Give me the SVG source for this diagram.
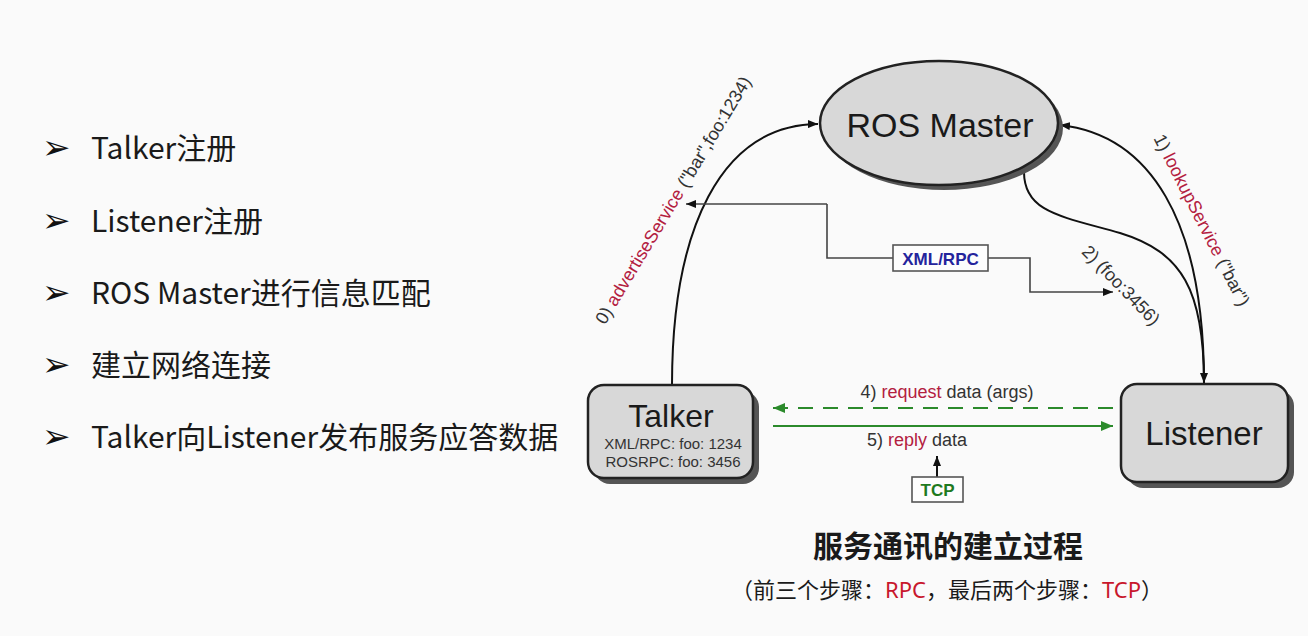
<svg xmlns="http://www.w3.org/2000/svg" width="1308" height="636" viewBox="0 0 1308 636">
<style>
.bul{font-family:"DejaVu Sans",sans-serif;font-size:34px;fill:#111}
.item{font-family:"Noto Sans CJK SC","Noto Sans",sans-serif;font-size:30px;fill:#1a1a1a}
.lbl{font-family:"Liberation Sans",Arial,sans-serif;font-size:18px;fill:#333}
.red{fill:#b3203f}
.node{font-family:"Liberation Sans",Arial,sans-serif;fill:#1a1a1a;text-anchor:middle}
.sub{font-family:"Liberation Sans",Arial,sans-serif;font-size:15px;fill:#333;text-anchor:middle}
.wire{fill:none;stroke:#111;stroke-width:2}
.thin{fill:none;stroke:#444;stroke-width:1.6}
.shape{fill:#d8d8d8;stroke:#222;stroke-width:2.5}
.shadow{fill:#555}
</style>
<defs>
<marker id="ab" viewBox="0 0 10 8" refX="10" refY="4" markerWidth="10" markerHeight="8" markerUnits="userSpaceOnUse" orient="auto">
<path d="M0,0 L10,4 L0,8 z" fill="#111"/>
</marker>
<marker id="ag" viewBox="0 0 12 10" refX="12" refY="5" markerWidth="12" markerHeight="10" markerUnits="userSpaceOnUse" orient="auto">
<path d="M0,0 L12,5 L0,10 z" fill="#2b8a2b"/>
</marker>
</defs>
<rect x="0" y="0" width="1308" height="636" fill="#fafafa"/>

<g id="bullets">
<text class="bul" x="42" y="159">➢</text>
<text class="item" x="91" y="159">Talker注册</text>
<text class="bul" x="42" y="232">➢</text>
<text class="item" x="91" y="232">Listener注册</text>
<text class="bul" x="42" y="304">➢</text>
<text class="item" x="91" y="304">ROS Master进行信息匹配</text>
<text class="bul" x="42" y="376">➢</text>
<text class="item" x="91" y="376">建立网络连接</text>
<text class="bul" x="42" y="448">➢</text>
<text class="item" x="91" y="448">Talker向Listener发布服务应答数据</text>
</g>

<g id="connectors">
<path class="wire" d="M672,385 C672,230 720,125 818,124" marker-end="url(#ab)"/>
<path class="wire" d="M1204,383 C1204,220 1150,135 1060,125" marker-end="url(#ab)"/>
<path class="wire" d="M1024,172 C1024,212 1060,216 1120,233 C1182,252 1204,290 1204,383" marker-end="url(#ab)"/>
<path class="thin" d="M827,204 L686,204" marker-end="url(#ab)"/>
<path class="thin" d="M893,258 L827,258 L827,204"/>
<path class="thin" d="M988,258 L1030,258 L1030,292 L1113,292" marker-end="url(#ab)"/>
<path d="M1113,408 L773,408" fill="none" stroke="#2b8a2b" stroke-width="2.2" stroke-dasharray="15,10" marker-end="url(#ag)"/>
<path d="M773,426 L1113,426" fill="none" stroke="#2b8a2b" stroke-width="2.2" marker-end="url(#ag)"/>
<path class="wire" d="M937,477 L937,456" marker-end="url(#ab)"/>
</g>

<g id="master">
<ellipse class="shadow" cx="944" cy="128" rx="119" ry="62"/>
<ellipse class="shape" cx="939" cy="123" rx="119" ry="62"/>
<text class="node" x="940" y="137" font-size="34">ROS Master</text>
</g>

<g id="talker">
<rect class="shadow" x="594" y="391" width="165" height="93" rx="16"/>
<rect class="shape" x="588" y="385" width="165" height="93" rx="16"/>
<text class="node" x="671" y="427" font-size="32">Talker</text>
<text class="sub" x="673" y="449">XML/RPC: foo: 1234</text>
<text class="sub" x="673" y="467">ROSRPC: foo: 3456</text>
</g>

<g id="listener">
<rect class="shadow" x="1127" y="390" width="167" height="98" rx="16"/>
<rect class="shape" x="1121" y="384" width="167" height="98" rx="16"/>
<text class="node" x="1204" y="445" font-size="33">Listener</text>
</g>

<g id="xmlrpc">
<rect x="893" y="245" width="95" height="26" fill="#fdfdfd" stroke="#555" stroke-width="1.6"/>
<text x="940.5" y="264.5" text-anchor="middle" font-family="Liberation Sans,Arial,sans-serif" font-weight="bold" font-size="17" fill="#24249c">XML/RPC</text>
</g>

<g id="tcp">
<rect x="912" y="477" width="51" height="25" fill="#fdfdfd" stroke="#555" stroke-width="1.6"/>
<text x="937.5" y="496" text-anchor="middle" font-family="Liberation Sans,Arial,sans-serif" font-weight="bold" font-size="17" fill="#1f7a1f">TCP</text>
</g>

<g id="labels">
<text class="lbl" text-anchor="middle" transform="translate(678.4,203.3) rotate(-59)">0) <tspan class="red">advertiseService</tspan> ("bar",foo:1234)</text>
<text class="lbl" text-anchor="middle" transform="translate(1196.4,222.9) rotate(63)">1) <tspan class="red">lookupService</tspan> ("bar")</text>
<text class="lbl" text-anchor="middle" transform="translate(1116.6,289.5) rotate(46)">2) (foo:3456)</text>
<text class="lbl" x="947" y="398" text-anchor="middle">4) <tspan class="red">request</tspan> data (args)</text>
<text class="lbl" x="917" y="446" text-anchor="middle">5) <tspan class="red">reply</tspan> data</text>
</g>

<g id="caption">
<text x="948" y="557" text-anchor="middle" font-family="Noto Sans CJK SC,sans-serif" font-weight="bold" font-size="30" fill="#1a1a1a">服务通讯的建立过程</text>
<text x="947" y="598" text-anchor="middle" font-family="Noto Sans,Noto Sans CJK SC,sans-serif" font-size="22" fill="#1a1a1a">（前三个步骤：<tspan fill="#c8172c">RPC</tspan>，最后两个步骤：<tspan fill="#c8172c">TCP</tspan>）</text>
</g>
</svg>
